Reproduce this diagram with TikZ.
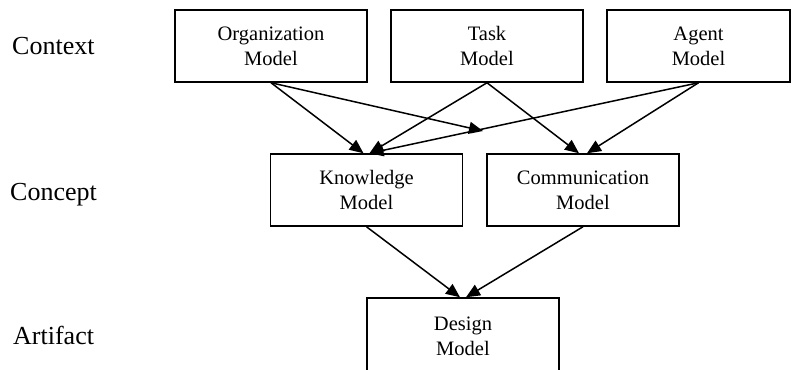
\documentclass[tikz,border=0pt]{standalone}
\usepackage{fontspec}
\setmainfont{Liberation Serif}
\usetikzlibrary{arrows.meta,calc}

\begin{document}
\begin{tikzpicture}[x=1pt,y=-1pt,
  ModelBox/.style={draw,line width=1.5pt,minimum width=192pt,minimum height=72pt,
    align=center,inner sep=0pt,font=\fontsize{20.5}{25}\selectfont},
  LayerLbl/.style={anchor=base west,inner sep=0pt,font=\fontsize{26}{30}\selectfont},
  Flow/.style={line width=1.5pt,-{Triangle[length=14pt,width=12pt]}}]
\useasboundingbox (0,0) rectangle (791,369);
\clip (0,0) rectangle (791,369);

\node[LayerLbl] (ctx) at (12,55) {Context};
\node[LayerLbl] (cpt) at (10,200) {Concept};
\node[LayerLbl] (art) at (13,344) {Artifact};

\node[ModelBox] (org) at (271,46) {Organization\\Model};
\node[ModelBox] (task) at (487,46) {Task\\Model};
\node[ModelBox,minimum width=183pt] (agent) at (698.5,46) {Agent\\Model};
\node[ModelBox] (know) at (366.5,190) {Knowledge\\Model};
\node[ModelBox] (comm) at (583,190) {Communication\\Model};
\node[ModelBox,minimum height=76pt] (design) at (463,336) {Design\\Model};

\coordinate (loose) at (483,131);

\draw[Flow] (org.south) -- ($(know.north)+(-3,0)$);
\draw[Flow] (org.south) -- (loose);
\draw[Flow] (task.south) -- ($(know.north)+(3,0)$);
\draw[Flow] (task.south) -- ($(comm.north)+(-4,0)$);
\draw[Flow] (agent.south) -- ($(comm.north)+(4,0)$);
\draw[Flow] (agent.south) -- ($(know.north)+(3,0)$);
\draw[Flow] (know.south) -- ($(design.north)+(-3,0)$);
\draw[Flow] (comm.south) -- ($(design.north)+(3,0)$);

\end{tikzpicture}
\end{document}
